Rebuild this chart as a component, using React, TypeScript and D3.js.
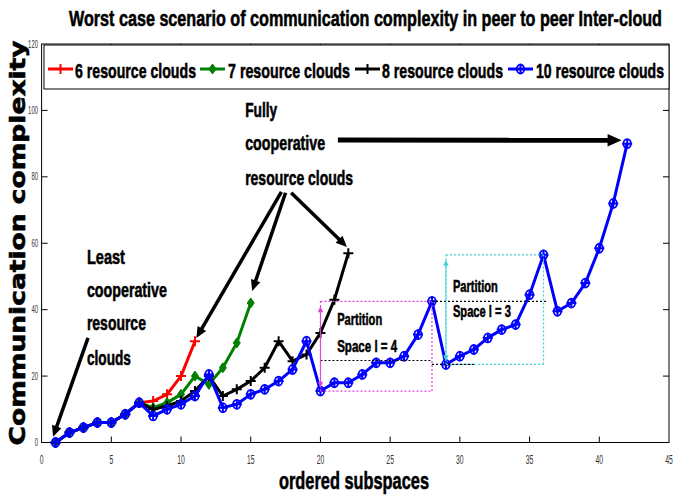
import React, { useRef, useEffect } from 'react';
import * as d3 from 'd3';

// communication complexity per ordered subspace (subspace = index + 1)
const clouds6 = [0, 3, 4.5, 6, 6, 8.5, 12, 12.5, 14.5, 20, 30.5];
const clouds7 = [0, 3, 4.5, 6, 6, 8.5, 12, 10.5, 12, 14.5, 20, 17.5, 22.5, 30, 42];
const clouds8 = [0, 3, 4.5, 6, 6, 8.5, 12, 10, 11, 12.5, 15.5, 20, 14, 16, 18.5, 22.5, 30.5, 24.5, 26.5, 33, 43, 57];
const clouds10 = [0, 3, 4.5, 6, 6, 8.5, 12, 8, 10, 11.5, 14, 20.5, 10.5, 11.5, 14.5, 16, 18.5, 22, 30.5, 15.5,
  18, 18, 20.5, 24, 24, 26, 32.5, 42.5, 23.5, 26, 28, 31.5, 34, 35.5, 44.5, 56.5, 39.5, 42, 48, 58.5, 72, 90];

const seriesNames = ['6 resource clouds', '7 resource clouds', '8 resource clouds', '10 resource clouds'];
const seriesColors = ['#ff0000', '#008000', '#000000', '#0000ff'];
const seriesMarkers = ['plus', 'diamond', 'plus', 'circle'];

const xTicks = [0, 5, 10, 15, 20, 25, 30, 35, 40, 45];
const yTicks = [0, 20, 40, 60, 80, 100, 120];

const NARROW = "'Liberation Sans Narrow', 'Arial Narrow', 'Liberation Sans', Arial, sans-serif";

const App = () => {
  const svgRef = useRef(null);

  useEffect(() => {
    document.body.style.margin = '0';
    const svg = d3.select(svgRef.current);
    svg.selectAll('*').remove();

    const W = 675, H = 495;
    const left = 41.6, right = 669, top = 44, bottom = 442.5;
    svg.attr('width', W).attr('height', H).style('display', 'block').style('background', '#fff');

    const x = d3.scaleLinear().domain([0, 45]).range([left, right]);
    const y = d3.scaleLinear().domain([0, 120]).range([bottom, top]);

    // heavy narrow text, like the original figure's font
    const boldText = (sel, size, len) => sel.attr('font-family', NARROW).attr('font-weight', 'bold')
      .attr('font-size', size).attr('stroke', '#000').attr('stroke-width', 0.55)
      .attr('textLength', len).attr('lengthAdjust', 'spacingAndGlyphs');

    // frame + ticks
    svg.append('rect').attr('x', left).attr('y', top).attr('width', right - left).attr('height', bottom - top)
      .attr('fill', 'none').attr('stroke', '#000').attr('stroke-width', 1);

    const tl = 6;
    xTicks.slice(1, -1).forEach(t => {
      svg.append('line').attr('x1', x(t)).attr('x2', x(t)).attr('y1', bottom).attr('y2', bottom - tl).attr('stroke', '#000');
      svg.append('line').attr('x1', x(t)).attr('x2', x(t)).attr('y1', top).attr('y2', top + tl).attr('stroke', '#000');
    });
    yTicks.slice(1, -1).forEach(t => {
      svg.append('line').attr('x1', left).attr('x2', left + tl).attr('y1', y(t)).attr('y2', y(t)).attr('stroke', '#000');
      svg.append('line').attr('x1', right).attr('x2', right - tl).attr('y1', y(t)).attr('y2', y(t)).attr('stroke', '#000');
    });

    xTicks.forEach(t => {
      const s = String(t);
      svg.append('text').attr('x', Math.min(x(t), 670)).attr('y', 460).attr('text-anchor', 'middle')
        .attr('dominant-baseline', 'central').attr('font-family', NARROW).attr('font-size', 12).attr('fill', '#333')
        .attr('textLength', s.length * 3.8).attr('lengthAdjust', 'spacingAndGlyphs').text(s);
    });
    yTicks.forEach(t => {
      const s = String(t);
      svg.append('text').attr('x', 38).attr('y', y(t)).attr('text-anchor', 'end')
        .attr('dominant-baseline', 'central').attr('font-family', NARROW).attr('font-size', 10).attr('fill', '#333')
        .attr('textLength', s.length * 3.3).attr('lengthAdjust', 'spacingAndGlyphs').text(s);
    });

    // titles
    boldText(svg.append('text').attr('x', 69).attr('y', 26), 22, 593)
      .text('Worst case scenario of communication complexity in peer to peer Inter-cloud');
    boldText(svg.append('text').attr('x', 354).attr('y', 489).attr('text-anchor', 'middle'), 23, 150)
      .text('ordered subspaces');
    svg.append('text').attr('transform', 'translate(25,243) rotate(-90)').attr('text-anchor', 'middle')
      .attr('font-family', "'DejaVu Sans', sans-serif").attr('font-weight', 900).attr('font-size', 21)
      .attr('stroke', '#000').attr('stroke-width', 0.6)
      .attr('textLength', 405).attr('lengthAdjust', 'spacingAndGlyphs').text('Communication complexity');

    const drawMarker = (g, kind, cx, cy, color) => {
      if (kind === 'diamond') {
        g.append('path').attr('d', `M${cx},${cy - 5}L${cx + 3.5},${cy}L${cx},${cy + 5}L${cx - 3.5},${cy}Z`)
          .attr('fill', color).attr('stroke', color).attr('stroke-width', 1);
        return;
      }
      g.append('path').attr('d', `M${cx - 5},${cy}H${cx + 5}M${cx},${cy - 5}V${cy + 5}`)
        .attr('stroke', color).attr('stroke-width', 2);
      if (kind === 'circle') {
        g.append('ellipse').attr('cx', cx).attr('cy', cy).attr('rx', 3.7).attr('ry', 4.5)
          .attr('fill', 'none').attr('stroke', color).attr('stroke-width', 1.8);
      }
    };

    // data series
    const allSeries = [clouds6, clouds7, clouds8, clouds10];
    const line = d3.line().x((d, i) => x(i + 1)).y(d => y(d));
    allSeries.forEach((vals, k) => {
      const g = svg.append('g');
      g.append('path').datum(vals).attr('d', line).attr('fill', 'none')
        .attr('stroke', seriesColors[k]).attr('stroke-width', 3).attr('stroke-linejoin', 'round');
      vals.forEach((v, i) => drawMarker(g, seriesMarkers[k], x(i + 1), y(v), seriesColors[k]));
    });

    // legend
    const lg = svg.append('g');
    lg.append('rect').attr('x', 44).attr('y', top + 1).attr('width', 625).attr('height', 44)
      .attr('fill', '#fff').attr('stroke', '#000').attr('stroke-width', 1);
    const sampleX = [48, 200, 355, 508];
    const textX = [75, 228, 382, 536];
    const textW = [121, 122, 121, 128];
    seriesNames.forEach((name, k) => {
      const ly = 69;
      lg.append('line').attr('x1', sampleX[k]).attr('x2', sampleX[k] + 25).attr('y1', ly).attr('y2', ly)
        .attr('stroke', seriesColors[k]).attr('stroke-width', 3);
      drawMarker(lg, seriesMarkers[k], sampleX[k] + 12.5, ly, seriesColors[k]);
      boldText(lg.append('text').attr('x', textX[k]).attr('y', ly + 1).attr('dominant-baseline', 'central'), 21, textW[k])
        .text(name);
    });

    // annotations
    const arrow = (x1, y1, x2, y2, color, width, head, both = false) => {
      const a = Math.atan2(y2 - y1, x2 - x1);
      const hw = head * 0.45;
      const tri = (tx, ty, ang) => {
        const bx = tx - head * Math.cos(ang), by = ty - head * Math.sin(ang);
        return `M${tx},${ty}L${bx + hw * Math.sin(ang)},${by - hw * Math.cos(ang)}L${bx - hw * Math.sin(ang)},${by + hw * Math.cos(ang)}Z`;
      };
      svg.append('line').attr('x1', x1).attr('y1', y1).attr('x2', x2 - head * 0.8 * Math.cos(a)).attr('y2', y2 - head * 0.8 * Math.sin(a))
        .attr('stroke', color).attr('stroke-width', width);
      svg.append('path').attr('d', tri(x2, y2, a)).attr('fill', color);
      if (both) svg.append('path').attr('d', tri(x1, y1, a + Math.PI)).attr('fill', color);
    };

    const dotted = (x1, y1, x2, y2, color) => svg.append('line').attr('x1', x1).attr('y1', y1).attr('x2', x2).attr('y2', y2)
      .attr('stroke', color).attr('stroke-width', 1.2).attr('stroke-dasharray', '2,2');
    const box = (xa, xb, ya, yb, color) => {
      dotted(x(xa), y(ya), x(xb), y(ya), color);
      dotted(x(xa), y(yb), x(xb), y(yb), color);
      dotted(x(xa), y(ya), x(xa), y(yb), color);
      dotted(x(xb), y(ya), x(xb), y(yb), color);
    };

    box(20, 28, 15.5, 42.5, '#e040e0');
    box(29, 36, 23.5, 56.5, '#40d0d8');
    dotted(x(20), y(24.7), x(28), y(24.7), '#000');
    dotted(x(28), y(42.5), x(36.2), y(42.5), '#000');
    dotted(x(28), y(23.5), x(31), y(23.5), '#000');
    arrow(x(20), y(16.5), x(20), y(41), '#e040e0', 1, 6, true);
    arrow(x(29), y(24.5), x(29), y(55), '#40d0d8', 1, 6, true);

    const label = (lines, lx, ys, size, widths) => lines.forEach((t, i) => {
      boldText(svg.append('text').attr('x', x(lx)).attr('y', y(ys[i])).attr('dominant-baseline', 'central'), size, widths[i])
        .text(t);
    });
    label(['Partition', 'Space l = 4'], 21.2, [36.9, 28.8], 17, [45, 60]);
    label(['Partition', 'Space l = 3'], 29.5, [47.1, 39.3], 17, [45, 58]);
    label(['Fully', 'cooperative', 'resource clouds'], 14.6, [100.1, 90.2, 79.7], 20, [32, 80, 108]);
    label(['Least', 'cooperative', 'resource', 'clouds'], 3.25, [56, 46, 36, 25.5], 20, [38, 80, 59, 44]);

    arrow(x(3.33), y(31.5), x(0.82), y(1.7), '#000', 3.5, 11);
    arrow(x(17.2), y(75.5), x(11.1), y(31.5), '#000', 3.5, 11);
    arrow(x(17.5), y(75.2), x(15.1), y(45.6), '#000', 3.5, 11);
    arrow(x(17.9), y(75.2), x(21.9), y(58.9), '#000', 3.5, 11);
    arrow(x(21.25), y(91.1), x(41.6), y(91), '#000', 5, 14);
  }, []);

  return <svg ref={svgRef}></svg>;
};

export default App;
